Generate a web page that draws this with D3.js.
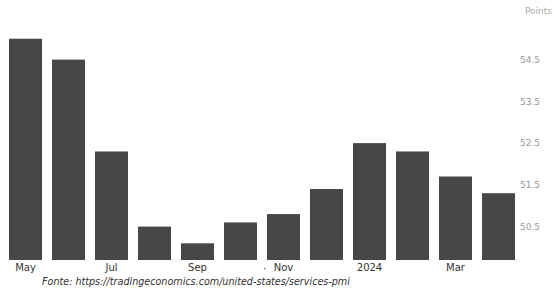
<!DOCTYPE html>
<html>
<head>
<meta charset="utf-8">
<script src="https://cdn.jsdelivr.net/npm/d3@7"></script>
<style>
  body { margin: 0; background: #fff; }
</style>
</head>
<body>
<div id="chart"></div>
<script>
// US services PMI, May 2023 - Apr 2024
const months = ["May", "Jun", "Jul", "Aug", "Sep", "Oct", "Nov", "Dec", "2024", "Feb", "Mar", "Apr"]
const values = [55.0, 54.5, 52.3, 50.5, 50.1, 50.6, 50.8, 51.4, 52.5, 52.3, 51.7, 51.3]
const yTicks = [50.5, 51.5, 52.5, 53.5, 54.5]
const xLabels = ["May", "Jul", "Sep", "Nov", "2024", "Mar"]

const width = 554, height = 291

const svg = d3.select("#chart").append("svg")
    .attr("width", width)
    .attr("height", height)

const x = d3.scaleBand()
    .domain(months)
    .range([4, 520])
    .paddingInner(0.233)
    .paddingOuter(0.1165)

const y = d3.scaleLinear()
    .domain([49.7, 55.7])
    .range([260, 9.5])

svg.selectAll(".bar")
    .data(values)
    .enter().append("rect")
    .attr("class", "bar")
    .attr("x", (d, i) => x(months[i]))
    .attr("y", d => y(d))
    .attr("width", x.bandwidth())
    .attr("height", d => y(49.7) - y(d))
    .attr("fill", "#474747")

// right axis, no line
const yAxis = svg.append("g")
    .attr("transform", "translate(520,0)")
    .call(d3.axisRight(y).tickValues(yTicks).tickFormat(d3.format(".1f")).tickSize(0))
yAxis.select(".domain").remove()
yAxis.selectAll("text")
    .attr("x", 0)
    .attr("fill", "#9a9a9a")
    .style("font-family", "DejaVu Sans")
    .style("font-size", "9px")

svg.append("text")
    .attr("x", 552)
    .attr("y", 14)
    .attr("text-anchor", "end")
    .attr("fill", "#aaaaaa")
    .style("font-family", "DejaVu Sans")
    .style("font-size", "9px")
    .text("Points")

// bottom labels every other month
const xAxis = svg.append("g")
    .attr("transform", "translate(0,260)")
    .call(d3.axisBottom(x).tickValues(xLabels).tickSize(0))
xAxis.select(".domain").remove()
xAxis.selectAll("text")
    .attr("y", 4)
    .attr("fill", "#333")
    .style("font-family", "DejaVu Sans")
    .style("font-size", "10px")

svg.append("text")
    .attr("x", 263)
    .attr("y", 272)
    .attr("fill", "#333")
    .style("font-family", "DejaVu Sans")
    .style("font-size", "10px")
    .text("·")

svg.append("text")
    .attr("x", 42)
    .attr("y", 285)
    .attr("fill", "#333")
    .style("font-family", "DejaVu Sans")
    .style("font-style", "italic")
    .style("font-size", "9.6px")
    .text("Fonte: https://tradingeconomics.com/united-states/services-pmi")
</script>
</body>
</html>
